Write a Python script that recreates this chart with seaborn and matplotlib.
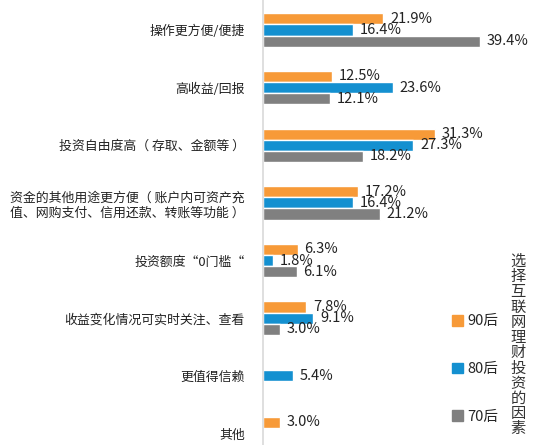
import pandas as pd
import matplotlib
matplotlib.use('Agg')
import matplotlib.pyplot as plt
import seaborn as sns

categories = [
    '操作更方便/便捷',
    '高收益/回报',
    '投资自由度高（ 存取、金额等 ）',
    '资金的其他用途更方便（ 账户内可资产充\n值、网购支付、信用还款、转账等功能 ）',
    '投资额度“0门槛“',
    '收益变化情况可实时关注、查看',
    '更值得信赖',
    '其他',
]
groups = ['90后', '80后', '70后']
v90 = [21.9, 12.5, 31.3, 17.2, 6.3, 7.8, None, 3.0]
v80 = [16.4, 23.6, 27.3, 16.4, 1.8, 9.1, 5.4, None]
v70 = [39.4, 12.1, 18.2, 21.2, 6.1, 3.0, None, None]
legend_title = '选择互联网理财投资的因素'

colors = {'90后': '#F79A38', '80后': '#1490D0', '70后': '#808080'}

sns.set_style('white')
plt.rcParams['font.family'] = ['Noto Sans CJK SC', 'DejaVu Sans']

rows = []
for g, vals in zip(groups, [v90, v80, v70]):
    for c, v in zip(categories, vals):
        rows.append({'factor': c, 'group': g, 'pct': v if v is not None else 0.0})
df = pd.DataFrame(rows)

fig = plt.figure(figsize=(5.33, 4.45), dpi=100)
ax = fig.add_axes([263 / 533, 0, 270 / 533, 1])

sns.barplot(data=df, y='factor', x='pct', hue='group', order=categories,
            hue_order=groups, palette=colors, width=0.58, orient='h',
            saturation=1, ax=ax, legend=False)

for cont, vals in zip(ax.containers, [v90, v80, v70]):
    labels = [f'{v:.1f}%' if v is not None else '' for v in vals]
    ax.bar_label(cont, labels=labels, padding=5, fontsize=10.5, color='#222222')

ax.set_xlim(0, 270 / 5.5)
ax.set_ylim(7.2, -0.52)
ax.set_xlabel('')
ax.set_ylabel('')
ax.set_xticks([])
ax.tick_params(axis='y', length=0, pad=13, labelsize=9.3)
for lbl in ax.get_yticklabels():
    lbl.set_multialignment('left')
    lbl.set_color('#222222')
for s in ['top', 'right', 'bottom']:
    ax.spines[s].set_visible(False)
ax.spines['left'].set_color('#d9d9d9')
ax.spines['left'].set_linewidth(1.2)

# legend on the right
handles = [plt.Rectangle((0, 0), 1, 1, color=colors[g]) for g in groups]
fig.legend(handles, groups, loc='center left', bbox_to_anchor=(445 / 533, 1 - 369 / 445),
           frameon=False, fontsize=10.5, handlelength=0.75, handleheight=0.75,
           handletextpad=0.3, labelspacing=2.3, borderpad=0)

fig.text(518 / 533, 1 - 345 / 445, '\n'.join(legend_title), ha='center', va='center',
         fontsize=11, linespacing=0.865, color='#333333')

fig.savefig('out.png', dpi=100)
